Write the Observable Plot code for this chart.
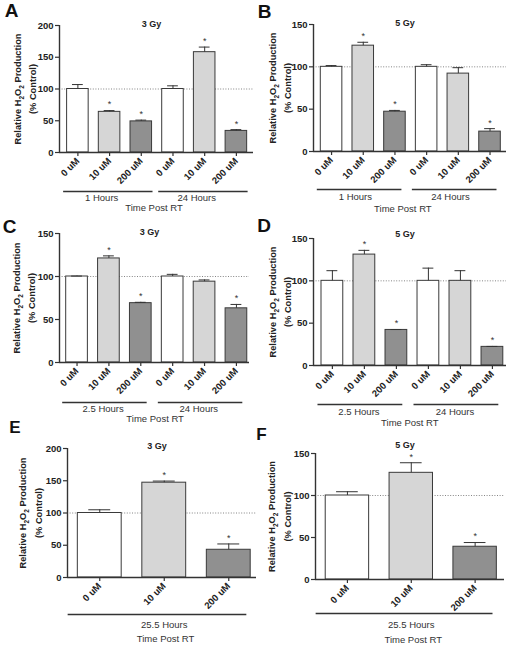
<!DOCTYPE html>
<html><head><meta charset="utf-8">
<script src="https://cdn.jsdelivr.net/npm/d3@7"></script>
<script src="https://cdn.jsdelivr.net/npm/@observablehq/plot@0.6"></script>
<style>
body{margin:0;background:#fff;}
#fig{position:relative;width:512px;height:646px;overflow:hidden;font-family:"Liberation Sans",Arial,sans-serif;}
.panel{position:absolute;}
</style></head><body><div id="fig"></div>
<script>
// ---- shared labels ----
const doses = ["0 uM", "10 uM", "200 uM"];
const doseFills = ["#ffffff", "#d6d6d6", "#909090"];
const yLabel1 = "Relative H2O2 Production";
const yLabel2 = "(% Control)";
const xTitle = "Time Post RT";

// ---- panel A ----
const aTitle = "3 Gy";
const aGroups = ["1 Hours", "24 Hours"];
const aMean = [100, 64, 49, 100, 158, 34];
const aErr  = [107, 66, 51, 105, 166, 36];
const aSig  = [false, true, true, false, true, true];
const aYTicks = [0, 50, 100, 150, 200];

// ---- panel B ----
const bTitle = "5 Gy";
const bGroups = ["1 Hours", "24 Hours"];
const bMean = [100, 125, 47, 100, 92, 23.5];
const bErr  = [101.5, 129, 48.5, 102.5, 99, 27];
const bSig  = [false, true, true, false, false, true];
const bYTicks = [0, 50, 100, 150];

// ---- panel C ----
const cTitle = "3 Gy";
const cGroups = ["2.5 Hours", "24 Hours"];
const cMean = [100, 121, 69, 100, 94, 63];
const cErr  = [100.5, 124, 70, 102.5, 96, 67.5];
const cSig  = [false, true, true, false, false, true];
const cYTicks = [0, 50, 100, 150];

// ---- panel D ----
const dTitle = "5 Gy";
const dGroups = ["2.5 Hours", "24 Hours"];
const dMean = [100, 131, 42, 100, 100, 22];
const dErr  = [112, 136, 42.5, 115, 112, 22.5];
const dSig  = [false, true, true, false, false, true];
const dYTicks = [0, 50, 100, 150];

// ---- panel E ----
const eTitle = "3 Gy";
const eGroups = ["25.5 Hours"];
const eMean = [100, 147, 43];
const eErr  = [105, 149.5, 52];
const eSig  = [false, true, true];
const eYTicks = [0, 50, 100, 150, 200];

// ---- panel F ----
const fTitle = "5 Gy";
const fGroups = ["25.5 Hours"];
const fMean = [100, 127, 39];
const fErr  = [104.5, 139, 44];
const fSig  = [false, true, true];
const fYTicks = [0, 50, 100, 150];

// ---- layout (positions / sizes only) ----
const layouts = {
  A: {left: 0,   top: 0,   w: 256, h: 215, mt: 25, mb: 63, ml: 59, mr: 3, xdom: [-0.58, 5.54], gStart: -0.45, gEnd: 0.37, gLabel: 0.75, tprtX: 2.4, lineDy: 39, groupDy: 45, tprtDy: 55.5, titleDy: -1, letter: [-48, -14.5], letterSize: 19},
  B: {left: 256, top: 0,   w: 256, h: 215, mt: 24, mb: 64, ml: 57, mr: 6, xdom: [-0.57, 5.52], gStart: -0.45, gEnd: 0.22, gLabel: 0.75, tprtX: 2.25, lineDy: 38, groupDy: 45, tprtDy: 57, titleDy: -1.5, letter: [-49, -13], letterSize: 19},
  C: {left: 0,   top: 215, w: 256, h: 215, mt: 18, mb: 68, ml: 59, mr: 7, xdom: [-0.55, 5.41], gStart: -0.45, gEnd: 0.2, gLabel: 0.82, tprtX: 2.45, lineDy: 40, groupDy: 46, tprtDy: 56, titleDy: -1.5, letter: [-50, -7], letterSize: 19},
  D: {left: 256, top: 215, w: 256, h: 215, mt: 23, mb: 65, ml: 57, mr: 6, xdom: [-0.59, 5.44], gStart: -0.45, gEnd: 0.2, gLabel: 0.83, tprtX: 2.42, lineDy: 39, groupDy: 46, tprtDy: 57.5, titleDy: -4.5, letter: [-49.5, -13], letterSize: 19},
  E: {left: 0,   top: 430, w: 256, h: 216, mt: 18, mb: 69, ml: 67, mr: 0, xdom: [-0.5, 2.43], gStart: -0.49, gEnd: 0.28, gLabel: 1.0, tprtX: 1.02, lineDy: 37, groupDy: 47.5, tprtDy: 61.5, titleDy: -2, letter: [-52.7, -20.5], letterSize: 17},
  F: {left: 256, top: 430, w: 256, h: 216, mt: 23, mb: 67, ml: 59, mr: 8, xdom: [-0.5, 2.46], gStart: -0.49, gEnd: 0.28, gLabel: 1.0, tprtX: 1.03, lineDy: 34, groupDy: 45.5, tprtDy: 60, titleDy: -8, letter: [-54, -19], letterSize: 17}
};
const ylabDx = {A: [-41, -26], B: [-40, -25], C: [-42, -27], D: [-40, -25], E: [-44, -28], F: [-43, -27]};

const panels = [
  {letter: "A", title: aTitle, groups: aGroups, mean: aMean, err: aErr, sig: aSig, yTicks: aYTicks},
  {letter: "B", title: bTitle, groups: bGroups, mean: bMean, err: bErr, sig: bSig, yTicks: bYTicks},
  {letter: "C", title: cTitle, groups: cGroups, mean: cMean, err: cErr, sig: cSig, yTicks: cYTicks},
  {letter: "D", title: dTitle, groups: dGroups, mean: dMean, err: dErr, sig: dSig, yTicks: dYTicks},
  {letter: "E", title: eTitle, groups: eGroups, mean: eMean, err: eErr, sig: eSig, yTicks: eYTicks},
  {letter: "F", title: fTitle, groups: fGroups, mean: fMean, err: fErr, sig: fSig, yTicks: fYTicks}
];

const INK = "#333";
const FONT = '"Liberation Sans", Arial, Helvetica, sans-serif';

function makePanel(cfg) {
  const L = layouts[cfg.letter];
  const n = cfg.mean.length;
  const rows = cfg.mean.map((m, i) => ({i, dose: i % 3, mean: m, err: cfg.err[i], sig: cfg.sig[i]}));
  const groups = cfg.groups.map((g, k) => ({k, name: g, first: k * 3, last: k * 3 + 2}));
  const ymax = cfg.yTicks[cfg.yTicks.length - 1];
  const [d1, d2] = ylabDx[cfg.letter];
  const svg = Plot.plot({
    width: L.w, height: L.h,
    marginTop: L.mt, marginBottom: L.mb, marginLeft: L.ml, marginRight: L.mr,
    style: {fontFamily: FONT, fontSize: "9px", color: "#222", background: "transparent", overflow: "visible"},
    x: {type: "linear", domain: L.xdom},
    y: {type: "linear", domain: [0, ymax]},
    marks: [
      Plot.ruleY([100], {stroke: "#777", strokeWidth: 0.9, strokeDasharray: "1,1.6"}),
      Plot.rectY(rows, {x1: d => d.i - 0.34, x2: d => d.i + 0.34, y1: 0, y2: "mean",
        fill: d => doseFills[d.dose], stroke: "#3a3a3a", strokeWidth: 1}),
      Plot.ruleX(rows, {x: "i", y1: "mean", y2: "err", stroke: INK, strokeWidth: 1}),
      Plot.ruleY(rows, {y: "err", x1: d => d.i - 0.17, x2: d => d.i + 0.17, stroke: INK, strokeWidth: 1}),
      Plot.text(rows.filter(d => d.sig), {x: "i", y: "err", text: () => "*", dy: -6, fontSize: 9, fill: "#333"}),
      // axes
      Plot.ruleY([0], {stroke: INK, strokeWidth: 1.4}),
      Plot.ruleX([L.xdom[0]], {y1: 0, y2: ymax, stroke: INK, strokeWidth: 1.4}),
      Plot.axisY({ticks: cfg.yTicks, tickSize: 4, tickPadding: 2, fontWeight: "bold", fontSize: 9.5, label: null, stroke: INK, strokeWidth: 1.2}),
      Plot.axisX({ticks: d3.range(n), tickSize: 4, tickPadding: 3, tickRotate: -45,
        tickFormat: i => doses[i % 3], fontWeight: "bold", fontSize: 9.5, label: null, stroke: INK, strokeWidth: 1.2}),
      // group brackets and labels
      Plot.ruleY(groups, {y: 0, x1: g => g.first + L.gStart, x2: g => g.last + L.gEnd, dy: L.lineDy, stroke: INK, strokeWidth: 1.4}),
      Plot.text(groups, {x: g => g.first + L.gLabel, y: 0, text: "name", dy: L.groupDy, fontSize: 9.5, fill: "#333"}),
      Plot.text([xTitle], {x: L.tprtX, y: 0, dy: L.tprtDy, fontSize: 9.5, fill: "#333"}),
      // title
      Plot.text([cfg.title], {frameAnchor: "top", lineAnchor: "middle", textAnchor: "middle", dx: -5, dy: L.titleDy, fontWeight: "bold", fontSize: 9}),
      // y axis label
      Plot.text([yLabel1], {frameAnchor: "left", textAnchor: "middle", lineAnchor: "middle", dx: d1, rotate: -90, fontWeight: "bold", fontSize: 9.3}),
      Plot.text([yLabel2], {frameAnchor: "left", textAnchor: "middle", lineAnchor: "middle", dx: d2, rotate: -90, fontWeight: "bold", fontSize: 9.3}),
      // panel letter
      Plot.text([cfg.letter], {frameAnchor: "top-left", textAnchor: "middle", lineAnchor: "middle",
        dx: L.letter[0], dy: L.letter[1], fontSize: L.letterSize, fontWeight: "bold", fill: "#111"})
    ]
  });
  // subscripts in H2O2
  d3.select(svg).selectAll("text").filter(function () { return this.textContent === yLabel1; })
    .each(function () {
      const t = d3.select(this);
      t.text(null);
      const parts = [["Relative H", 0], ["2", 1], ["O", 0], ["2", 1], [" Production", 0]];
      let shifted = false;
      for (const [s, sub] of parts) {
        const ts = t.append("tspan").text(s);
        if (sub && !shifted) { ts.attr("dy", "2.5").style("font-size", "6.5px"); shifted = true; }
        else if (!sub && shifted) { ts.attr("dy", "-2.5"); shifted = false; }
        else if (sub) ts.style("font-size", "6.5px");
      }
    });
  const div = document.createElement("div");
  div.className = "panel";
  div.style.left = L.left + "px";
  div.style.top = L.top + "px";
  div.appendChild(svg);
  return div;
}

const fig = document.getElementById("fig");
for (const p of panels) fig.appendChild(makePanel(p));
</script>
</body></html>
